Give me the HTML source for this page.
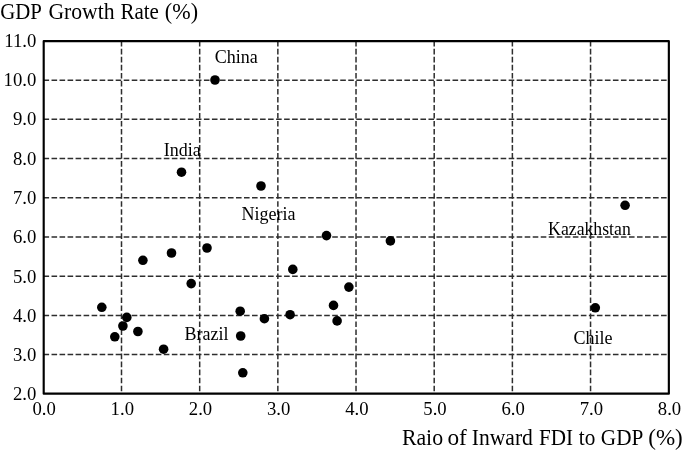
<!DOCTYPE html><html><head><meta charset="utf-8"><style>html,body{margin:0;padding:0;background:#fff;}svg{display:block;filter:grayscale(1);}text{font-family:"Liberation Serif",serif;fill:#000;}</style></head><body>
<svg width="685" height="451" viewBox="0 0 685 451">
<g stroke="#2e2e2e" stroke-width="1.5" stroke-dasharray="5.6 2.42" fill="none"><line x1="43.50" y1="354.62" x2="668.85" y2="354.62"/><line x1="43.50" y1="315.41" x2="668.85" y2="315.41"/><line x1="43.50" y1="276.20" x2="668.85" y2="276.20"/><line x1="43.50" y1="236.99" x2="668.85" y2="236.99"/><line x1="43.50" y1="197.78" x2="668.85" y2="197.78"/><line x1="43.50" y1="158.57" x2="668.85" y2="158.57"/><line x1="43.50" y1="119.36" x2="668.85" y2="119.36"/><line x1="43.50" y1="80.15" x2="668.85" y2="80.15"/><line x1="121.50" y1="40.80" x2="121.50" y2="393.70"/><line x1="199.68" y1="40.80" x2="199.68" y2="393.70"/><line x1="277.85" y1="40.80" x2="277.85" y2="393.70"/><line x1="356.02" y1="40.80" x2="356.02" y2="393.70"/><line x1="434.20" y1="40.80" x2="434.20" y2="393.70"/><line x1="512.38" y1="40.80" x2="512.38" y2="393.70"/><line x1="590.55" y1="40.80" x2="590.55" y2="393.70"/></g>
<rect x="43.7" y="41.15" width="625.15" height="352.55" fill="none" stroke="#000" stroke-width="2.15" stroke-linejoin="round"/>
<g fill="#000"><circle cx="215" cy="80" r="4.8"/><circle cx="181.5" cy="172.2" r="4.8"/><circle cx="261" cy="186" r="4.8"/><circle cx="207" cy="248" r="4.8"/><circle cx="171.5" cy="253" r="4.8"/><circle cx="142.9" cy="260.3" r="4.8"/><circle cx="326.5" cy="235.6" r="4.8"/><circle cx="390.4" cy="240.9" r="4.8"/><circle cx="625.1" cy="205.3" r="4.8"/><circle cx="292.8" cy="269.4" r="4.8"/><circle cx="191.2" cy="283.6" r="4.8"/><circle cx="348.9" cy="287.1" r="4.8"/><circle cx="101.8" cy="307.3" r="4.8"/><circle cx="126.8" cy="317.4" r="4.8"/><circle cx="240.2" cy="311.2" r="4.8"/><circle cx="333.5" cy="305.4" r="4.8"/><circle cx="290.1" cy="314.7" r="4.8"/><circle cx="264.4" cy="318.7" r="4.8"/><circle cx="337.1" cy="320.9" r="4.8"/><circle cx="122.9" cy="326" r="4.8"/><circle cx="137.9" cy="331.5" r="4.8"/><circle cx="114.8" cy="336.8" r="4.8"/><circle cx="240.7" cy="336" r="4.8"/><circle cx="595.3" cy="307.8" r="4.8"/><circle cx="163.6" cy="349.2" r="4.8"/><circle cx="242.8" cy="372.8" r="4.8"/></g>
<text transform="translate(36.35,400.45) scale(0.96,1)" text-anchor="end" font-size="19.5">2.0</text><text transform="translate(36.35,361.15) scale(0.96,1)" text-anchor="end" font-size="19.5">3.0</text><text transform="translate(36.35,321.85) scale(0.96,1)" text-anchor="end" font-size="19.5">4.0</text><text transform="translate(36.35,282.55) scale(0.96,1)" text-anchor="end" font-size="19.5">5.0</text><text transform="translate(36.35,243.25) scale(0.96,1)" text-anchor="end" font-size="19.5">6.0</text><text transform="translate(36.35,203.95) scale(0.96,1)" text-anchor="end" font-size="19.5">7.0</text><text transform="translate(36.35,164.65) scale(0.96,1)" text-anchor="end" font-size="19.5">8.0</text><text transform="translate(36.35,125.35) scale(0.96,1)" text-anchor="end" font-size="19.5">9.0</text><text transform="translate(36.35,86.05) scale(0.96,1)" text-anchor="end" font-size="19.5">10.0</text><text transform="translate(36.35,46.75) scale(0.96,1)" text-anchor="end" font-size="19.5">11.0</text>
<text transform="translate(44.12,415.0) scale(0.96,1)" text-anchor="middle" font-size="19.5">0.0</text><text transform="translate(122.30,415.0) scale(0.96,1)" text-anchor="middle" font-size="19.5">1.0</text><text transform="translate(200.48,415.0) scale(0.96,1)" text-anchor="middle" font-size="19.5">2.0</text><text transform="translate(278.65,415.0) scale(0.96,1)" text-anchor="middle" font-size="19.5">3.0</text><text transform="translate(356.82,415.0) scale(0.96,1)" text-anchor="middle" font-size="19.5">4.0</text><text transform="translate(435.00,415.0) scale(0.96,1)" text-anchor="middle" font-size="19.5">5.0</text><text transform="translate(513.17,415.0) scale(0.96,1)" text-anchor="middle" font-size="19.5">6.0</text><text transform="translate(591.35,415.0) scale(0.96,1)" text-anchor="middle" font-size="19.5">7.0</text><text transform="translate(669.52,415.0) scale(0.96,1)" text-anchor="middle" font-size="19.5">8.0</text>
<text transform="translate(0.22,18.6) scale(0.9218,1)" font-size="22.6">GDP</text><text transform="translate(48.38,18.6) scale(0.9602,1)" font-size="22.6">Growth</text><text transform="translate(120.42,18.6) scale(0.9300,1)" font-size="22.6">Rate</text><text transform="translate(164.86,18.6) scale(0.9791,1)" font-size="22.6">(%)</text>
<text transform="translate(401.90,445.0) scale(0.9652,1)" font-size="22.6">Raio</text><text transform="translate(447.42,445.0) scale(1.0306,1)" font-size="22.6">of</text><text transform="translate(471.69,445.0) scale(0.9566,1)" font-size="22.6">Inward</text><text transform="translate(538.91,445.0) scale(0.9392,1)" font-size="22.6">FDI</text><text transform="translate(578.74,445.0) scale(0.9395,1)" font-size="22.6">to</text><text transform="translate(600.80,445.0) scale(0.9403,1)" font-size="22.6">GDP</text><text transform="translate(648.23,445.0) scale(1.0199,1)" font-size="22.6">(%)</text>
<text transform="translate(214.75,63.2) scale(1,1)" font-size="18">China</text><text transform="translate(163.8,156.0) scale(1,1)" font-size="18">India</text><text transform="translate(241.4,220.2) scale(1,1)" font-size="18">Nigeria</text><text transform="translate(548.1,234.9) scale(0.985,1)" font-size="18">Kazakhstan</text><text transform="translate(184.6,339.6) scale(1,1)" font-size="18">Brazil</text><text transform="translate(573.4,343.9) scale(1,1)" font-size="18">Chile</text>
</svg></body></html>
